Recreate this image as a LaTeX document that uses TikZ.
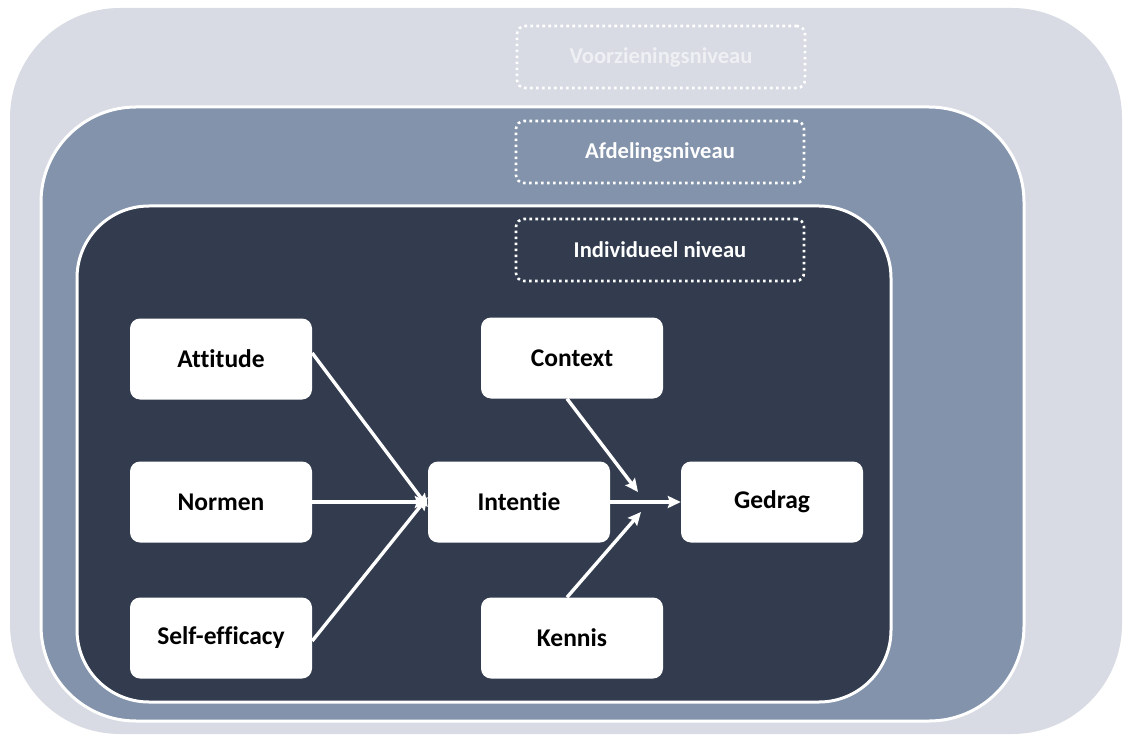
\documentclass[tikz,border=0pt]{standalone}
\usepackage{fontspec}
\setmainfont{Carlito}[Ligatures=NoCommon]
\usetikzlibrary{arrows.meta}
\definecolor{outerc}{HTML}{D8DBE3}
\definecolor{midc}{HTML}{8293AB}
\definecolor{innerc}{HTML}{323C4E}
\definecolor{lbltxt}{HTML}{EEF0F4}
\tikzset{
  box/.style={fill=white, rounded corners=10pt, minimum width=182pt, minimum height=81pt, inner sep=0pt, font=\bfseries\fontsize{25.5}{28}\selectfont, text=black},
  lvl/.style={draw=white, line width=2.6pt, dash pattern=on 2.6pt off 3.4pt, rounded corners=8pt, minimum width=288pt, minimum height=62pt, inner sep=0pt, font=\bfseries\fontsize{22.6}{26}\selectfont},
  arr/.style={draw=white, line width=3.4pt, -{Stealth[length=13pt,width=12pt,inset=2pt]}}
}
\begin{document}
\begin{tikzpicture}[x=1pt,y=-1pt]
\useasboundingbox (0,0) rectangle (1124,738);
\fill[white] (0,0) rectangle (1124,738);
% levels
\fill[outerc, rounded corners=110pt] (10,8) rectangle (1122,734);
\filldraw[fill=midc, draw=white, line width=3pt, rounded corners=95pt] (41,107) rectangle (1024,721);
\filldraw[fill=innerc, draw=white, line width=3pt, rounded corners=72pt] (77,206) rectangle (891,702);
% level labels
\node[lvl, text=lbltxt] (vz) at (661,57) {Voorzieningsniveau};
\node[lvl, text=white] (af) at (660,152) {Afdelingsniveau};
\node[lvl, text=white] (in) at (660,250) {Individueel niveau};
% boxes
\node[box] (att) at (221,359) {Attitude};
\node[box] (nor) at (221,502) {Normen};
\node[box] (sel) at (221,638) {Self-efficacy};
\node[box] (int) at (519,502) {Intentie};
\node[box] (ctx) at (572,358) {Context};
\node[box] (ged) at (772,502) {Gedrag};
\node[box] (ken) at (572,638) {Kennis};
% arrows
\coordinate (cA) at (638,492);
\coordinate (kA) at (641,512);
\draw[arr] ([yshift=6pt]att.east) -- ([yshift=-5pt]int.west);
\draw[arr] (nor.east) -- (int.west);
\draw[arr] ([yshift=-3pt]sel.east) -- ([yshift=5pt]int.west);
\draw[arr] (int.east) -- (ged.west);
\draw[arr] ([xshift=-5pt]ctx.south) -- (cA);
\draw[arr] ([xshift=-5pt]ken.north) -- (kA);
\end{tikzpicture}
\end{document}
